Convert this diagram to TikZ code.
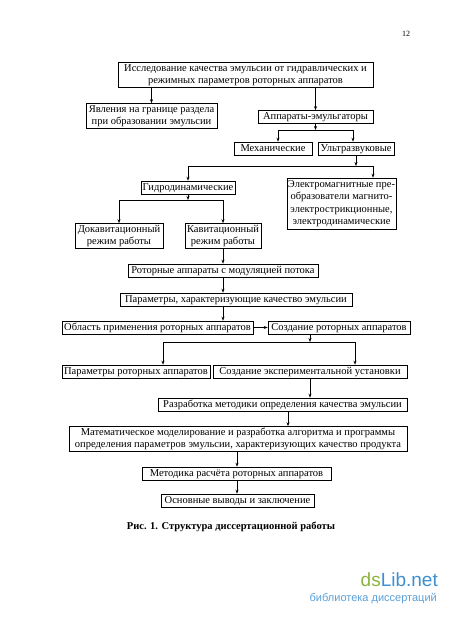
\documentclass[tikz,border=0pt]{standalone}
\usepackage{fontspec}
\setmainfont{Liberation Serif}
\newfontfamily\wmfont{Liberation Sans}
\usetikzlibrary{arrows.meta}
\definecolor{wmgreen}{HTML}{8DB33A}
\definecolor{wmblue}{HTML}{3D8FD1}
\definecolor{wmlight}{HTML}{5AA0D8}
\newcommand\mytab[1]{\begin{tabular}{@{}c@{}}#1\end{tabular}}
\begin{document}
\begin{tikzpicture}[x=1pt,y=-1pt,
  box/.style={draw, line width=0.65pt, inner xsep=1pt, inner ysep=0pt,
    font=\fontsize{10.5}{12.5}\selectfont},
  one/.style={box, text height=8pt, text depth=2.5pt, minimum height=13pt},
  arr/.style={-{Stealth[length=4pt,width=3pt]}, line width=0.65pt},
  ln/.style={line width=0.65pt}]
\useasboundingbox[fill=white] (0,0) rectangle (450,619);

\node[box, minimum width=255pt, minimum height=24pt] (top) at (245.5,75)
  {\mytab{Исследование качества эмульсии от гидравлических и\\режимных параметров роторных аппаратов}};
\node[box, minimum width=131pt, minimum height=24pt] (jav) at (151.5,116)
  {\mytab{Явления на границе раздела\\при образовании эмульсии}};
\node[one, minimum width=115pt] (app) at (315.5,117) {Аппараты-эмульгаторы};
\node[one, minimum width=78pt] (mech) at (273,148.5) {Механические};
\node[one, minimum width=76pt] (ultra) at (356,148.5) {Ультразвуковые};
\node[one, minimum width=94pt] (gidro) at (188,187.5) {Гидродинамические};
\node[box, minimum width=109pt, minimum height=51pt] (elec) at (341.5,203.5)
  {\mytab{Электромагнитные пре-\\образователи магнито-\\электрострикционные,\\электродинамические}};
\node[box, minimum width=88pt, minimum height=23pt] (dokav) at (119,236) {\mytab{Докавитационный\\режим работы}};
\node[box, minimum width=76pt, minimum height=23pt] (kav) at (223,236) {\mytab{Кавитационный\\режим работы}};
\node[one, minimum width=190pt] (rotor) at (223,270.5) {Роторные аппараты с модуляцией потока};
\node[one, minimum width=232pt] (params) at (236,299.5) {Параметры, характеризующие качество эмульсии};
\node[one, minimum width=191pt] (obl) at (157.5,327.5) {Область применения роторных аппаратов};
\node[one, minimum width=142pt] (sozd) at (339,327.5) {Создание роторных аппаратов};
\node[one, minimum width=148pt] (parrot) at (136,371.5) {Параметры роторных аппаратов};
\node[one, minimum width=194pt] (sozdexp) at (310,371.5) {Создание экспериментальной установки};
\node[one, minimum width=249pt] (razr) at (282.5,404.5) {Разработка методики определения качества эмульсии};
\node[box, minimum width=338pt, minimum height=24pt] (mat) at (238,439)
  {\mytab{Математическое моделирование и разработка алгоритма и программы\\определения параметров эмульсии, характеризующих качество продукта}};
\node[one, minimum width=189pt] (metod) at (236.5,473.5) {Методика расчёта роторных аппаратов};
\node[one, minimum width=153pt] (osn) at (237.5,500.5) {Основные выводы и заключение};

\node[font=\fontsize{10.5}{12.5}\selectfont\bfseries] (cap) at (231,527) {Рис. 1. Структура диссертационной работы};
\node[font=\fontsize{8}{9}\selectfont] (pnum) at (406,34) {12};

% connectors
\draw[arr] (top.south -| jav) -- (jav.north);
\draw[arr] (top.south -| app) -- (app.north);

\coordinate (b1) at (315.5,130);
\coordinate (b1L) at (278,130);
\coordinate (b1R) at (353,130);
\draw[arr] (app.south) -- (b1);
\draw[ln] (b1L) -- (b1R);
\draw[arr] (b1L) -- (b1L |- mech.north);
\draw[arr] (b1R) -- (b1R |- ultra.north);

\coordinate (b2) at (356,166);
\coordinate (b2L) at (188,166);
\coordinate (b2R) at (373,166);
\draw[arr] (ultra.south) -- (b2);
\draw[ln] (b2L) -- (b2R);
\draw[arr] (b2L) -- (gidro.north);
\draw[arr] (b2R) -- (b2R |- elec.north);

\coordinate (b3) at (188,200);
\coordinate (b3L) at (119,200);
\coordinate (b3R) at (223,200);
\draw[arr] (gidro.south) -- (b3);
\draw[ln] (b3L) -- (b3R);
\draw[arr] (b3L) -- (dokav.north);
\draw[arr] (b3R) -- (kav.north);

\draw[arr] (kav.south) -- (rotor.north);
\draw[arr] (rotor.south) -- (rotor.south |- params.north);
\draw[arr] (rotor.south |- params.south) -- (rotor.south |- obl.north);
\draw[arr] (obl.east) -- (sozd.west);

\coordinate (s1) at (310,334);
\coordinate (b4) at (310,342);
\coordinate (b4L) at (163,342);
\coordinate (b4R) at (355,342);
\draw[arr] (s1) -- (b4);
\draw[ln] (b4L) -- (b4R);
\draw[arr] (b4L) -- (b4L |- parrot.north);
\draw[arr] (b4R) -- (b4R |- sozdexp.north);

\draw[arr] (sozdexp.south) -- (sozdexp.south |- razr.north);
\coordinate (r1) at (288,411);
\draw[arr] (r1) -- (r1 |- mat.north);
\coordinate (m1) at (237,451);
\draw[arr] (m1) -- (m1 |- metod.north);
\draw[arr] (m1 |- metod.south) -- (m1 |- osn.north);

% watermark
\node[anchor=east, inner sep=0pt, font=\wmfont\fontsize{19}{20}\selectfont] (wm1) at (438,580)
  {\textcolor{wmgreen}{ds}\textcolor{wmblue}{Lib.net}};
\node[anchor=east, inner sep=0pt, font=\wmfont\fontsize{11}{12}\selectfont, text=wmlight] (wm2) at (437,599)
  {библиотека диссертаций};
\end{tikzpicture}
\end{document}
